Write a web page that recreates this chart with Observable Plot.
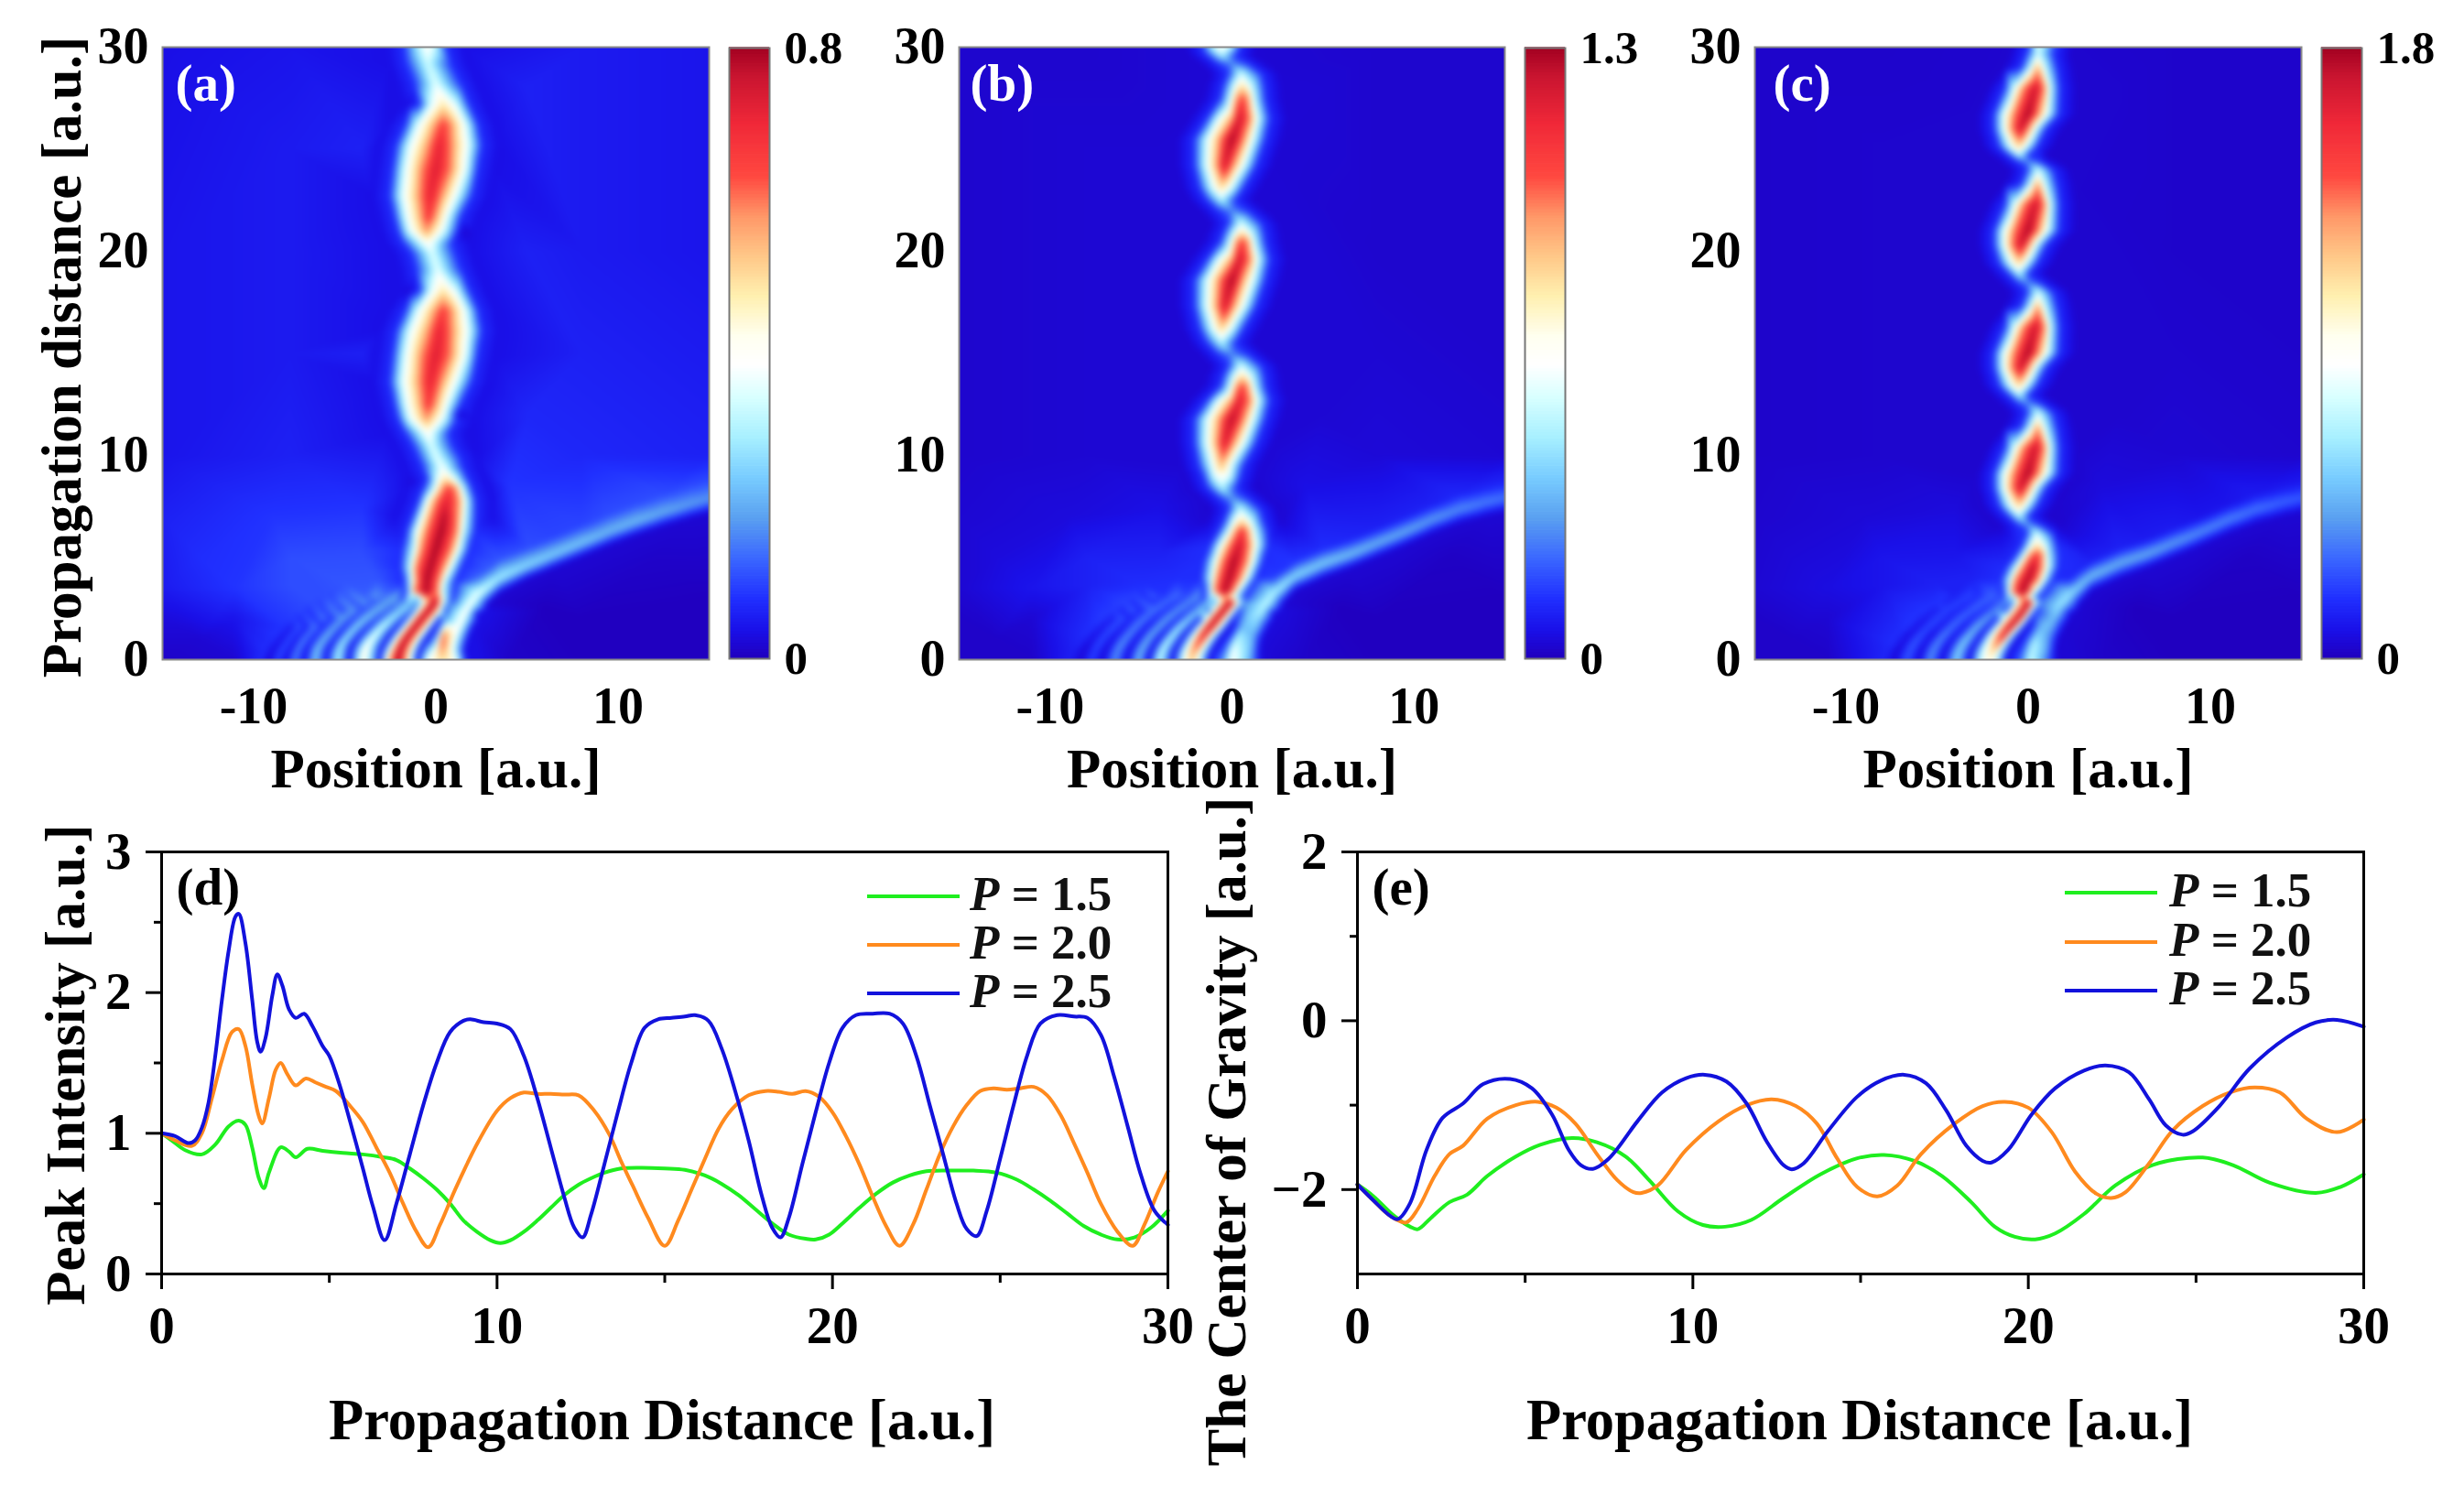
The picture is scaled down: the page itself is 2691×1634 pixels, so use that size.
<!DOCTYPE html>
<html><head><meta charset="utf-8">
<script src="https://cdn.jsdelivr.net/npm/d3@7"></script>
<script src="https://cdn.jsdelivr.net/npm/@observablehq/plot@0.6"></script>
<style>
html,body{margin:0;padding:0;background:#fff}
#page{position:relative;width:2691px;height:1634px;overflow:hidden;font-family:"Liberation Serif",serif;font-weight:bold;color:#000}
#page svg{position:absolute;background:transparent}
.lg{position:absolute;font-size:53px;line-height:50px;white-space:nowrap;color:#111}
.sw{position:absolute;height:4px}
</style></head><body><div id="page"></div>
<script>
// colour bar (fraction of the maximum -> colour)
const stops=[0,.043,.096,.16,.227,.293,.36,.425,.478,.524,.59,.655,.72,.787,.873,.952,1];
const colors=["#2000c0","#1a10e8","#2030ff","#3a66ff","#5aa0f0","#78ccff","#a8f0ff","#d8ffff","#ffffff","#fffff0","#fff0b0","#ffc888","#ff9868","#ff4840","#f02838","#c81430","#a00020"];
const maxA=0.8,maxB=1.3,maxC=1.8;
const N=null;
// Ridge rows read from each map:
// [z, peak, x of peak, x blue-left, x white-left, x red-left, x red-right, x white-right, x blue-right]
const ridgeA=[
[3.05,.72,-.4,-1.9,-1.5,N,N,.45,.95],[3.3,1,-.55,-1.7,-1.35,-1.2,.1,.35,1.0],[3.8,1,-.5,-1.75,-1.35,-1.05,.15,.45,1.05],
[4.5,1,-.3,-1.95,-1.4,-1.1,.4,.85,1.4],[5.4,1,0,-1.85,-1.2,-.8,.85,1.3,1.85],[6.3,1,.3,-1.6,-1.13,-.55,1.15,1.5,2.15],
[7,.98,.45,-1.3,-.85,-.3,1.2,1.6,2.2],[7.8,.9,.6,-.95,-.55,0,1.25,1.65,2.2],[8.4,.82,.7,-.7,-.1,.4,1.1,1.45,2.0],
[8.9,.6,.55,-.5,.05,N,N,1.05,1.75],[9.4,.48,.35,-.75,N,N,N,N,1.5],[9.9,.45,.05,-1,N,N,N,N,1.35],[10.5,.44,-.25,-1.3,N,N,N,N,.95],
[11.1,.5,-.45,-1.7,-.75,N,N,-.15,.75],[11.8,.72,-.5,-2.1,-1.5,N,N,.47,1.2],[12.5,.85,-.45,-2.3,-1.7,-.75,-.05,.7,1.4],
[13.6,.9,-.3,-2.55,-1.9,-.9,.3,1.2,2],[14.9,.92,0,-2.4,-1.75,-.8,.85,1.7,2.3],[16.1,.9,.2,-2.2,-1.5,-.4,.9,1.85,2.55],
[17.1,.82,.4,-1.7,-1.05,0,.85,1.7,2.35],[18.1,.6,.4,-.9,-.3,N,N,1.15,1.85],[19.1,.45,.1,-1.1,N,N,N,N,1.4],[19.9,.44,-.2,-1.35,N,N,N,N,1.1],
[20.4,.5,-.45,-1.8,-.8,N,N,-.1,.9],[21,.72,-.5,-2.1,-1.5,N,N,.47,1.2],[21.7,.85,-.45,-2.3,-1.7,-.75,-.05,.7,1.4],
[22.7,.9,-.3,-2.55,-1.9,-.9,.3,1.2,2],[24,.92,0,-2.4,-1.75,-.8,.85,1.7,2.3],[25.2,.9,.2,-2.2,-1.5,-.4,.9,1.85,2.55],
[26.2,.82,.4,-1.7,-1.05,0,.85,1.7,2.35],[27.2,.6,.4,-.9,-.3,N,N,1.15,1.85],[28.2,.45,0,-1.2,N,N,N,N,1.4],[29.2,.42,-.45,-1.65,N,N,N,N,.85],
[30,.5,-.45,-1.8,-.8,N,N,-.1,.6]];
const ridgeB=[
[3.05,.72,-.4,-1.5,-1.2,N,N,.15,.7],[3.35,1,-.35,-1.5,-1.15,-.95,.05,.35,.85],[4,1,-.15,-1.7,-1.15,-.8,.45,.85,1.35],
[4.8,1,.1,-1.55,-1,-.55,.8,1.2,1.7],[5.6,.95,.4,-1.2,-.7,-.15,.95,1.4,2],[6.3,.85,.55,-.75,-.2,.25,.85,1.25,1.95],
[6.8,.62,.55,-.45,.05,N,N,1.05,1.75],[7.4,.4,.45,-.2,N,N,N,N,1.55],[7.9,.22,0,-.7,N,N,N,N,.9],[8.4,.38,-.55,-1.35,N,N,N,N,.25],
[9,.5,-.6,-1.6,-1,N,N,-.1,.5],[9.5,.68,-.58,-1.85,-1.15,N,N,0,.65],[10.6,.92,-.4,-2.1,-1.45,-.8,.05,.7,1.35],
[11.8,.98,0,-2.1,-1.4,-.65,.65,1.2,1.85],[12.7,.92,.4,-1.4,-.8,.05,1,1.45,2.1],[13.4,.8,.55,-.65,-.1,.3,.85,1.2,1.85],
[13.9,.62,.55,-.5,.1,N,N,1.05,1.8],[14.4,.42,.5,-.23,N,N,N,N,1.65],[14.95,.2,0,-.8,N,N,N,N,.9],[15.5,.38,-.58,-1.4,N,N,N,N,.2],
[16.2,.64,-.58,-1.8,-1.1,N,N,0,.65],[17.3,.93,-.4,-2.1,-1.45,-.8,.05,.7,1.35],[18.6,1,0,-2.1,-1.4,-.7,.55,1.2,1.85],
[19.6,.95,.4,-1.4,-.8,.05,1,1.45,2.1],[20.5,.8,.55,-.65,-.1,.3,.85,1.2,1.85],[20.9,.62,.55,-.5,.1,N,N,1.05,1.8],
[21.4,.42,.5,-.23,N,N,N,N,1.65],[22,.2,0,-.8,N,N,N,N,.9],[22.5,.38,-.58,-1.4,N,N,N,N,.2],[23.1,.62,-.58,-1.8,-1.1,N,N,0,.65],
[24.2,.93,-.4,-2.1,-1.45,-.8,.05,.7,1.35],[25.5,1,0,-2.1,-1.4,-.65,.65,1.2,1.85],[26.5,.95,.4,-1.4,-.8,.05,1,1.45,2.1],
[27.5,.8,.55,-.65,-.1,.3,.85,1.2,1.85],[28.1,.62,.55,-.5,.1,N,N,1.05,1.8],[28.7,.42,.5,-.23,N,N,N,N,1.65],
[29.2,.2,0,-.8,N,N,N,N,.9],[29.6,.38,-.58,-1.4,N,N,N,N,.2],[30,.5,-.55,-1.7,-1,N,N,-.1,.5]];
const ridgeC=[
[3.05,.75,-.35,-1.3,-1,N,N,.1,.6],[3.3,1,-.3,-1.4,-1.05,-.85,.1,.35,.85],[3.9,1,0,-1.5,-1,-.7,.5,.85,1.35],[4.5,.98,.25,-1.2,-.7,-.3,.75,1.1,1.65],
[5.1,.85,.45,-.7,-.25,.1,.8,1.05,1.7],[5.6,.62,.5,-.35,.1,N,N,.95,1.6],[6.2,.42,.45,-.1,N,N,N,N,1.4],[6.6,.22,0,-.6,N,N,N,N,.7],[7,.38,-.5,-1.1,N,N,N,N,.05],
[7.5,.62,-.5,-1.6,-1,N,N,-.1,.5],[8.4,.95,-.4,-1.9,-1.4,-.9,0,.45,1],[9.1,1,0,-1.9,-1.4,-.8,.55,1.1,1.7],[10.4,.95,.4,-1.3,-.8,-.25,.9,1.2,1.75],
[11.4,.72,.5,-.4,.15,N,N,.9,1.6],[12.1,.42,.55,-.1,N,N,N,N,1.4],[12.55,.2,0,-.6,N,N,N,N,.7],[12.95,.38,-.5,-1.1,N,N,N,N,.05],
[13.4,.62,-.5,-1.6,-1,N,N,-.1,.5],[14.3,.95,-.4,-1.9,-1.4,-.9,0,.45,1],[15,1,0,-1.9,-1.4,-.8,.55,1.1,1.7],[16.3,.95,.4,-1.3,-.8,-.25,.9,1.2,1.75],
[17.3,.72,.5,-.4,.15,N,N,.9,1.6],[18,.42,.55,-.1,N,N,N,N,1.4],[18.45,.2,0,-.6,N,N,N,N,.7],[18.9,.38,-.5,-1.1,N,N,N,N,.05],
[19.4,.62,-.5,-1.6,-1,N,N,-.1,.5],[20.3,.95,-.4,-1.9,-1.4,-.9,0,.45,1],[21,1,0,-1.9,-1.4,-.8,.55,1.1,1.7],[22.3,.95,.4,-1.3,-.8,-.25,.9,1.2,1.75],
[23.3,.72,.5,-.4,.15,N,N,.9,1.6],[24,.42,.55,-.1,N,N,N,N,1.4],[24.4,.2,0,-.6,N,N,N,N,.7],[24.7,.38,-.5,-1.1,N,N,N,N,.05],
[25.1,.62,-.5,-1.6,-1,N,N,-.1,.5],[26,.95,-.4,-1.9,-1.4,-.9,0,.45,1],[26.7,1,0,-1.9,-1.4,-.8,.55,1.1,1.7],[28,.95,.4,-1.3,-.8,-.25,.9,1.2,1.75],
[29,.7,.5,-.4,.15,N,N,.9,1.6],[29.7,.42,.55,-.1,N,N,N,N,1.4],[30,.46,.55,0,N,N,N,N,1.6]];
// Fringe table: z levels, then for each bright/dark fringe its x and its fraction at those levels
const zLevels=[0,.4,.8,1.2,1.6,2,2.4,2.8,3.1];
const fringeXA=[
[-9.6,-9.4,-9.1,-8.75,-8.35,-7.9,-7.4,-6.8,-6.2],[-9.15,-8.95,-8.65,-8.3,-7.9,-7.4,-6.9,-6.3,-5.7],
[-8.7,-8.5,-8.2,-7.9,-7.5,-7.1,-6.6,-6,-5.4],[-8.2,-8,-7.75,-7.45,-7.05,-6.6,-6.1,-5.5,-4.9],
[-7.8,-7.65,-7.4,-7.05,-6.65,-6.2,-5.65,-5,-4.4],[-7.2,-7.1,-6.9,-6.55,-6.15,-5.7,-5.1,-4.5,-3.9],
[-6.65,-6.55,-6.3,-5.95,-5.55,-5.1,-4.55,-3.95,-3.35],[-6,-5.95,-5.7,-5.35,-4.95,-4.5,-3.95,-3.35,-2.75],
[-5.4,-5.3,-5.15,-4.8,-4.4,-3.9,-3.3,-2.7,-2.15],[-4.75,-4.7,-4.5,-4.15,-3.7,-3.2,-2.6,-2.05,-1.55],
[-4,-3.9,-3.7,-3.35,-2.95,-2.45,-1.85,-1.4,-1.05],[-3.05,-3,-2.8,-2.5,-2.1,-1.7,-1.25,-.95,N],
[-2.7,-2.55,-2.3,-2,-1.65,-1.3,-.95,-.65,N],[-2.1,-2,-1.8,-1.5,-1.15,-.8,-.4,-.05,N],[-1.45,-1.35,-1.15,-.85,-.5,-.15,.2,.35,N],
[-1,-.9,-.7,-.4,-.1,.2,.55,.7,N],[-.45,-.3,-.15,.05,.25,.45,.85,N,N],[.2,.3,.35,.4,.6,N,N,N,N],
[1.05,.95,1,1.1,1.25,1.45,1.7,1.95,N],[1.7,1.6,1.7,1.85,2.05,2.35,2.7,N,N]];
const fringeVA=[
[.09,.09,.09,.1,.1,.11,.12,.13,.13],[.02,.03,.04,.05,.06,.08,.09,.11,.12],
[.13,.13,.13,.13,.14,.14,.15,.16,.16],[.03,.04,.05,.06,.07,.09,.11,.13,.14],
[.2,.2,.2,.19,.19,.19,.19,.2,.2],[.04,.04,.06,.07,.08,.09,.11,.13,.15],
[.3,.3,.28,.27,.25,.24,.23,.22,.22],[.04,.04,.05,.06,.08,.1,.12,.14,.17],
[.38,.38,.36,.34,.32,.3,.27,.25,.25],[.03,.03,.04,.06,.08,.11,.14,.17,.2],
[.55,.55,.5,.46,.42,.37,.33,.3,.32],[.03,.03,.03,.03,.05,.08,.15,.22,N],
[.55,.5,.5,.5,.5,.5,.5,.5,N],[1,1,1,1,1,1,1,1,N],[.5,.5,.5,.5,.5,.5,.5,.5,N],
[.03,.02,.03,.03,.03,.05,.1,.2,N],[.5,.4,.25,.2,.2,.2,.25,N,N],[.6,.72,.8,.78,.55,N,N,N,N],
[.5,.45,.45,.48,.5,.5,.5,.48,N],[.05,.04,.04,.04,.04,.04,.04,N,N]];
const fringeXB=[
[-8.9,-8.7,-8.4,-8,-7.6,-7.1,-6.5,-5.9,-5.3],[-8.3,-8.1,-7.85,-7.5,-7.1,-6.6,-6.05,-5.45,-4.85],
[-7.75,-7.55,-7.3,-6.95,-6.5,-6.05,-5.5,-4.9,-4.3],[-7.1,-6.95,-6.7,-6.35,-5.95,-5.5,-4.95,-4.35,-3.75],
[-6.45,-6.3,-6.05,-5.7,-5.3,-4.85,-4.3,-3.7,-3.1],[-5.8,-5.65,-5.4,-5.05,-4.65,-4.2,-3.65,-3.05,-2.5],
[-5.15,-5,-4.75,-4.45,-4,-3.55,-3,-2.4,-1.9],[-4.6,-4.45,-4.2,-3.85,-3.45,-2.95,-2.4,-1.85,-1.4],
[-4,-3.85,-3.6,-3.25,-2.85,-2.35,-1.8,-1.3,-1],[-3.25,-3.15,-2.9,-2.6,-2.2,-1.75,-1.25,-.9,N],
[-2.75,-2.6,-2.35,-2.05,-1.7,-1.35,-1,-.7,N],[-2.25,-2.1,-1.85,-1.55,-1.2,-.85,-.45,-.05,N],[-1.8,-1.65,-1.4,-1.1,-.7,-.35,0,.3,N],
[-1.25,-1.1,-.85,-.55,-.2,.1,.4,.7,N],[-.55,-.45,-.3,-.05,.2,N,N,N,N],[0,.05,.15,.35,.6,.85,N,N,N],
[1,1,1.05,1.15,1.3,1.45,1.65,1.95,N],[1.6,1.55,1.6,1.75,2,2.3,2.65,N,N]];
const fringeVB=[
[.07,.07,.08,.09,.1,.11,.11,.12,.12],[.02,.02,.03,.04,.05,.06,.07,.08,.09],
[.12,.12,.13,.13,.14,.14,.15,.15,.15],[.02,.02,.03,.04,.05,.07,.08,.09,.1],
[.22,.22,.22,.21,.2,.19,.18,.17,.17],[.02,.02,.03,.04,.05,.07,.09,.1,.12],
[.28,.28,.27,.26,.25,.24,.22,.21,.22],[.02,.02,.03,.04,.06,.08,.11,.13,.16],
[.42,.42,.4,.38,.36,.32,.29,.28,.3],[.02,.02,.03,.03,.05,.07,.14,.22,N],
[.42,.44,.46,.48,.5,.5,.5,.5,N],[.66,.75,.85,.95,1,1,1,1,N],[.42,.44,.46,.48,.5,.5,.5,.5,N],
[.03,.03,.03,.03,.03,.05,.1,.2,N],[.2,.15,.12,.1,.1,N,N,N,N],[.5,.48,.42,.36,.28,.3,N,N,N],
[.25,.28,.28,.26,.3,.33,.38,.4,N],[.03,.03,.03,.03,.03,.03,.03,N,N]];
const fringeXC=[
[-7.9,-7.7,-7.4,-7.05,-6.6,-6.2,-5.6,-5,-4.5],[-7.3,-7.15,-6.9,-6.55,-6.1,-5.65,-5.1,-4.5,-4],
[-6.7,-6.5,-6.25,-5.9,-5.45,-5,-4.45,-3.85,-3.3],[-6,-5.85,-5.6,-5.25,-4.8,-4.35,-3.8,-3.2,-2.7],
[-5.4,-5.25,-5,-4.65,-4.2,-3.75,-3.15,-2.55,-2],[-4.7,-4.55,-4.3,-3.95,-3.5,-3.05,-2.45,-1.9,-1.45],
[-3.95,-3.8,-3.55,-3.2,-2.8,-2.3,-1.75,-1.25,-.95],[-3.2,-3.1,-2.85,-2.55,-2.15,-1.7,-1.2,-.85,N],
[-2.7,-2.55,-2.3,-2,-1.6,-1.25,-.9,-.6,N],[-2.15,-1.95,-1.65,-1.3,-.95,-.55,-.2,.1,N],[-1.7,-1.55,-1.3,-1,-.6,-.2,.1,.35,N],
[-1.2,-1.05,-.8,-.5,-.15,.15,.45,.75,N],[-.5,-.4,-.25,0,.25,N,N,N,N],[.15,.2,.3,.5,.75,N,N,N,N],
[.95,.95,1,1.1,1.25,1.4,1.6,1.9,N],[1.6,1.55,1.6,1.75,2,2.3,2.65,N,N]];
const fringeVC=[
[.08,.08,.09,.09,.1,.1,.1,.1,.1],[.02,.02,.03,.03,.04,.05,.06,.07,.07],
[.15,.15,.15,.14,.13,.13,.12,.12,.12],[.02,.02,.03,.03,.05,.06,.07,.08,.09],
[.22,.22,.21,.2,.18,.17,.16,.16,.16],[.02,.02,.03,.04,.05,.07,.09,.11,.13],
[.32,.32,.31,.29,.27,.24,.21,.2,.22],[.02,.02,.03,.03,.05,.07,.12,.18,N],
[.38,.4,.42,.46,.5,.5,.5,.5,N],[.55,.65,.8,.95,1,1,1,1,N],[.38,.4,.42,.46,.5,.5,.5,.5,N],
[.03,.03,.03,.03,.03,.05,.1,.18,N],[.14,.12,.1,.1,.1,N,N,N,N],[.42,.4,.38,.32,.28,N,N,N,N],
[.2,.25,.25,.24,.26,.28,.32,.35,N],[.02,.02,.02,.02,.02,.02,.02,N,N]];
// Beam leaving to the right: x stations, then z of its centre, its lower and upper flank, and fractions
const beamX=[2.3,2.9,3.5,5,6.5,8,9.5,11,12.5,14,15];
const beamZA=[3.2,3.6,4,4.6,5.15,5.7,6.25,6.75,7.2,7.6,7.85],beamVA=[.46,.4,.36,.32,.3,.29,.27,.27,.25,.23,.22],beamLowA=[2.2,2.75,3.25,3.95,4.5,5.05,5.6,6.1,6.55,6.95,7.2],beamHighA=[4,4.4,4.9,5.45,6,6.55,7.1,7.6,8.05,8.45,8.7],beamUpA=[.16,.15,.14,.13,.12,.12,.13,.13,.13,.13,.13];
const beamZB=[3.25,3.7,4.1,4.7,5.15,5.7,6.25,6.85,7.35,7.7,7.9],beamVB=[.38,.35,.32,.3,.28,.26,.25,.23,.21,.19,.18],beamLowB=[2.2,2.8,3.4,4,4.5,5.05,5.6,6.2,6.7,7.05,7.25],beamHighB=[4,4.4,4.8,5.4,5.85,6.4,6.95,7.55,8.05,8.4,8.6],beamUpB=[.11,.1,.1,.09,.08,.07,.07,.07,.08,.08,.08];
const beamZC=[3.2,3.65,4.1,4.7,5.15,5.7,6.25,6.85,7.35,7.7,7.9],beamVC=[.34,.3,.28,.26,.25,.23,.21,.2,.18,.16,.15],beamLowC=[2.2,2.8,3.4,4,4.5,5.05,5.6,6.2,6.7,7.05,7.25],beamHighC=[3.95,4.4,4.8,5.4,5.85,6.4,6.95,7.55,8.05,8.4,8.6],beamUpC=[.08,.08,.07,.07,.06,.06,.05,.05,.06,.06,.06];
// Background read as [x, z, fraction]
const backA=[[-11,0,.02],[-15,0,.01],[-13,1,.02],[-15,2,.03],[-11,2,.05],[-15,3.5,.06],[-11,3.5,.1],[-8,3.6,.13],[-5,3.7,.14],[-3.2,3.9,.14],
[-13,5,.09],[-8,5,.13],[-4,5.2,.13],[-15,7,.07],[-9,7,.1],[-4,7.4,.1],[-15,10,.05],[-8,10,.07],[-15,15,.05],[-15,20,.05],[-15,30,.04],[-8,15,.06],[-8,20,.06],[-8,25,.06],[-8,30,.05],[-4,15,.07],[-4,25,.07],
[-1.35,8.75,.02],[-1.5,18,.02],[-1.5,27.2,.03],[1.2,11.9,.02],[1.5,21,.02],[15,10,.07],[8,10,.08],[15,15,.06],[8,15,.07],[15,20,.05],[8,20,.06],[15,30,.05],[8,30,.06],[5,20,.07],[5,12,.08],[5,28,.07],[4,8.5,.1],
[15,0,0],[8,0,0],[4,0,.01],[15,3,0],[8,2,0],[2.4,0,.04],[6,2.5,0],[12,5,.01]];
const backB=[[-11,0,.01],[-15,0,.01],[-13,1,.01],[-15,2,.01],[-11,2,.02],[-15,3.5,.02],[-11,3.5,.05],[-8,3.6,.07],[-5,3.7,.09],[-3,4,.09],
[-13,5,.03],[-8,5,.07],[-4,5.2,.07],[-15,7,.02],[-9,7,.03],[-4,7.4,.04],[-15,10,.015],[-8,10,.02],[-15,15,.015],[-15,20,.015],[-15,30,.015],[-8,15,.02],[-8,20,.02],[-8,25,.02],[-8,30,.015],[-4,15,.02],[-4,25,.02],
[15,10,.02],[8,10,.025],[15,15,.015],[8,15,.02],[15,20,.015],[8,20,.015],[15,30,.015],[8,30,.015],[5,20,.02],[5,12,.02],[5,28,.02],[4,8.5,.04],
[15,0,0],[8,0,0],[4,0,.01],[15,3,0],[8,2,0],[2.4,0,.02],[6,2.5,0],[12,5,.005]];
const backC=[[-11,0,.01],[-15,0,.01],[-13,1,.01],[-15,2,.01],[-11,2,.02],[-15,3.5,.02],[-11,3.5,.035],[-8,3.6,.05],[-5,3.7,.07],[-3,4,.07],
[-13,5,.025],[-8,5,.05],[-4,5.2,.05],[-15,7,.015],[-9,7,.025],[-4,7.4,.03],[-15,10,.012],[-8,10,.015],[-15,15,.012],[-15,20,.012],[-15,30,.012],[-8,15,.015],[-8,20,.015],[-8,25,.015],[-8,30,.012],[-4,15,.015],[-4,25,.015],
[15,10,.015],[8,10,.02],[15,15,.012],[8,15,.015],[15,20,.012],[8,20,.012],[15,30,.012],[8,30,.012],[5,20,.015],[5,12,.015],[5,28,.015],[4,8.5,.03],
[15,0,0],[8,0,0],[4,0,.01],[15,3,0],[8,2,0],[2.4,0,.02],[6,2.5,0],[12,5,.005]];
const darkRingA=.04,darkRingB=.02,darkRingC=.015;
// Colour level at each read edge of a ridge row: blue, white, red, red, white, blue
const edgeLevels=[.09,.42,.72,.72,.42,.09];
// Peak intensity curves [distance, value]
const peak15=[[0,1],[.3,.95],[.7,.88],[1.2,.85],[1.6,.92],[2,1.05],[2.3,1.09],[2.5,1.06],[2.7,.9],[2.9,.68],[3.05,.61],[3.2,.72],[3.55,.9],[3.8,.87],[4,.83],[4.35,.89],[4.8,.875],[5.4,.86],[6,.85],[6.6,.83],[7,.81],[7.4,.75],[7.8,.68],[8.2,.6],[8.6,.5],[9,.38],[9.4,.3],[9.8,.24],[10.1,.22],[10.4,.24],[10.8,.3],[11.2,.38],[11.6,.47],[12,.56],[12.4,.63],[12.8,.68],[13.2,.72],[13.7,.75],[14.3,.755],[15,.75],[15.6,.74],[16.2,.7],[16.7,.64],[17.2,.56],[17.7,.46],[18.2,.36],[18.7,.28],[19.2,.25],[19.5,.245],[19.9,.28],[20.3,.36],[20.8,.47],[21.3,.57],[21.8,.65],[22.3,.7],[22.8,.73],[23.5,.735],[24.2,.735],[24.9,.72],[25.5,.67],[26,.6],[26.5,.52],[27,.43],[27.5,.34],[28,.28],[28.5,.245],[29,.26],[29.5,.33],[30,.45]];
const peak20=[[0,1],[.4,.95],[.9,.91],[1.2,1],[1.5,1.25],[1.8,1.52],[2.1,1.72],[2.3,1.74],[2.5,1.62],[2.7,1.35],[2.9,1.12],[3,1.07],[3.2,1.25],[3.4,1.45],[3.55,1.5],[3.75,1.42],[4,1.34],[4.3,1.39],[4.6,1.36],[4.9,1.33],[5.2,1.3],[5.6,1.2],[6,1.08],[6.4,.9],[6.8,.72],[7.2,.5],[7.6,.3],[7.95,.19],[8.3,.35],[8.75,.6],[9.44,.94],[10,1.16],[10.4,1.25],[10.8,1.29],[11.2,1.28],[11.6,1.28],[12,1.275],[12.43,1.27],[12.9,1.16],[13.35,.99],[13.7,.8],[14.04,.63],[14.5,.4],[15,.2],[15.4,.38],[15.8,.6],[16.2,.82],[16.6,1.03],[17,1.17],[17.5,1.27],[18,1.3],[18.4,1.295],[18.8,1.28],[19.2,1.3],[19.6,1.26],[20,1.15],[20.4,.98],[20.8,.78],[21.2,.55],[21.6,.34],[22,.2],[22.4,.35],[22.8,.6],[23.2,.85],[23.6,1.05],[24,1.2],[24.4,1.3],[24.8,1.32],[25.2,1.31],[25.6,1.32],[26,1.33],[26.4,1.27],[26.8,1.13],[27.2,.93],[27.6,.72],[28,.5],[28.5,.3],[28.95,.2],[29.3,.35],[29.7,.58],[30,.73]];
const peak25=[[0,1],[.4,.98],[.8,.93],[1,.95],[1.2,1.04],[1.4,1.22],[1.6,1.55],[1.8,1.95],[2,2.3],[2.2,2.54],[2.3,2.56],[2.5,2.35],[2.7,1.95],[2.85,1.65],[2.95,1.58],[3.1,1.68],[3.3,1.98],[3.45,2.13],[3.6,2.05],[3.8,1.88],[4,1.82],[4.25,1.85],[4.5,1.76],[4.8,1.62],[5,1.55],[5.3,1.35],[5.6,1.1],[6,.75],[6.3,.48],[6.65,.24],[7,.5],[7.4,.85],[7.8,1.2],[8.2,1.5],[8.6,1.72],[9,1.8],[9.2,1.81],[9.6,1.79],[10,1.78],[10.4,1.74],[10.8,1.55],[11.2,1.25],[11.6,.9],[12,.55],[12.3,.33],[12.55,.26],[12.8,.42],[13.2,.78],[13.6,1.15],[14,1.5],[14.4,1.75],[14.8,1.81],[15.2,1.82],[15.6,1.83],[15.9,1.84],[16.3,1.8],[16.7,1.6],[17.1,1.3],[17.5,.95],[17.9,.55],[18.2,.33],[18.45,.26],[18.7,.4],[19.1,.78],[19.5,1.15],[19.9,1.5],[20.3,1.75],[20.7,1.84],[21.2,1.85],[21.7,1.85],[22.1,1.78],[22.5,1.55],[22.9,1.2],[23.3,.85],[23.7,.5],[24,.32],[24.3,.27],[24.6,.45],[25,.82],[25.4,1.2],[25.8,1.55],[26.2,1.78],[26.7,1.84],[27.2,1.83],[27.6,1.82],[28,1.7],[28.4,1.4],[28.8,1.05],[29.2,.7],[29.6,.45],[30,.35]];
// Centre of gravity curves [distance, value]
const cog15=[[0,-1.94],[.48,-2.08],[1.09,-2.31],[1.57,-2.44],[1.8,-2.47],[2.18,-2.34],[2.74,-2.15],[3.27,-2.06],[3.87,-1.84],[4.72,-1.61],[5.45,-1.47],[6.4,-1.39],[7.14,-1.44],[8,-1.61],[8.7,-1.89],[9.56,-2.26],[10.3,-2.42],[10.96,-2.44],[11.74,-2.36],[12.7,-2.1],[13.8,-1.82],[14.9,-1.63],[15.7,-1.59],[16.6,-1.66],[17.43,-1.84],[18.3,-2.15],[19,-2.44],[19.6,-2.56],[20.2,-2.59],[20.8,-2.52],[21.66,-2.29],[22.6,-1.95],[23.7,-1.71],[25.2,-1.62],[26.1,-1.71],[27.2,-1.92],[28.57,-2.04],[29.3,-1.97],[30,-1.82]];
const cog20=[[0,-1.94],[.48,-2.13],[.97,-2.31],[1.45,-2.39],[1.8,-2.23],[2.3,-1.84],[2.74,-1.58],[3.15,-1.48],[3.87,-1.16],[4.72,-1],[5.37,-.96],[5.93,-1.03],[6.5,-1.22],[7.14,-1.58],[7.75,-1.89],[8.23,-2.03],[8.47,-2.04],[8.96,-1.95],[9.8,-1.53],[10.77,-1.19],[11.6,-1],[12.35,-.93],[13.07,-1.01],[13.7,-1.22],[14.3,-1.63],[14.9,-1.97],[15.5,-2.08],[16.1,-1.95],[16.8,-1.58],[17.8,-1.22],[18.64,-1.01],[19.3,-.96],[20,-1.03],[20.7,-1.32],[21.4,-1.79],[22.03,-2.05],[22.47,-2.1],[22.9,-2.03],[23.6,-1.69],[24.3,-1.3],[25.2,-1.01],[26,-.85],[26.75,-.79],[27.5,-.85],[28.3,-1.16],[29.2,-1.32],[30,-1.17]];
const cog25=[[0,-1.94],[.48,-2.13],[.97,-2.31],[1.2,-2.35],[1.57,-2.16],[2.06,-1.53],[2.54,-1.15],[3.15,-.98],[3.75,-.75],[4.55,-.69],[5.2,-.8],[5.8,-1.11],[6.3,-1.53],[6.66,-1.71],[7.02,-1.755],[7.5,-1.63],[8.35,-1.19],[9.08,-.85],[9.8,-.68],[10.36,-.64],[11,-.72],[11.6,-.98],[12.2,-1.43],[12.7,-1.71],[12.95,-1.76],[13.3,-1.69],[14.04,-1.3],[14.9,-.9],[15.6,-.71],[16.3,-.64],[16.95,-.74],[17.55,-1.06],[18.15,-1.48],[18.64,-1.66],[18.9,-1.68],[19.4,-1.53],[20.1,-1.11],[20.8,-.8],[21.66,-.59],[22.3,-.53],[23,-.61],[23.6,-.93],[24.1,-1.24],[24.6,-1.35],[24.9,-1.31],[25.7,-1.01],[26.6,-.565],[27.7,-.2],[28.57,-.02],[29.2,.01],[30,-.07]];

const FONT='"Liberation Serif",serif';
const baseStyle={fontFamily:FONT,fontWeight:"bold",background:"transparent",overflow:"visible",color:"#000"};
const page=document.getElementById("page");
function place(svg,left,top){svg.style.left=left+"px";svg.style.top=top+"px";page.appendChild(svg);}
function samples(p){
  const out=p.back.map(([x,z,v])=>({x,z,v}));
  for(const r of p.rows){
    out.push({x:r[2],z:r[0],v:r[1]});
    for(let i=0;i<6;i++) if(r[3+i]!==N) out.push({x:r[3+i],z:r[0],v:edgeLevels[i]});
    if(r[0]>=6.5) out.push({x:r[3]-.9,z:r[0],v:p.ring},{x:r[8]+.9,z:r[0],v:p.ring});
  }
  p.fx.forEach((xs,i)=>xs.forEach((x,j)=>{ if(x!==N) out.push({x,z:zLevels[j],v:p.fv[i][j]}); }));
  beamX.forEach((x,i)=>{
    out.push({x,z:p.bz[i],v:p.bv[i]},{x,z:p.blow[i],v:.02},{x,z:p.bhigh[i],v:p.bup[i]});
  });
  return out;
}
function heat(p){
  const {left,right,top,bottom,barL,barR,barT,barB,max,tag,tagDx,yTitle}=p;
  const ml=190,mr=10,mt=30,mb=170;
  const colorOpt={type:"linear",domain:stops.map(s=>s*max),range:colors,clamp:true};
  const marks=[
    Plot.raster(samples(p),{x:"x",y:"z",fill:d=>d.v*max,x1:-15,x2:15,y1:0,y2:30,interpolate:"barycentric",pixelSize:1,blur:3}),
    Plot.frame({stroke:"#8a8a8a",strokeWidth:2}),
    Plot.axisX([-10,0,10],{tickSize:0,tickPadding:30,fontSize:56,label:null,tickFormat:d=>String(d)}),
    Plot.axisY([0,10,20,30],{tickSize:0,tickPadding:15,fontSize:56,label:null}),
    Plot.text(["Position [a.u.]"],{text:d=>d,frameAnchor:"bottom",dy:120,fontSize:61,lineAnchor:"middle",fill:"#000"}),
    Plot.text([tag],{text:d=>d,frameAnchor:"top-left",dx:tagDx,dy:40,fontSize:57,lineAnchor:"middle",textAnchor:"start",fill:"#fff"})
  ];
  if(yTitle) marks.push(Plot.text([yTitle],{text:d=>d,frameAnchor:"left",dx:-109,dy:4,fontSize:61,rotate:-90,lineAnchor:"middle",textAnchor:"middle",fill:"#000"}));
  place(Plot.plot({width:right-left+ml+mr,height:bottom-top+mt+mb,marginLeft:ml,marginRight:mr,marginTop:mt,marginBottom:mb,
    x:{domain:[-15,15]},y:{domain:[0,30]},color:colorOpt,style:baseStyle,marks}),left-ml,top-mt);
  const lv=d3.range(0,200).map(i=>i/200*max);
  const bm=40;
  place(Plot.plot({width:barR-barL+2*bm+80,height:barB-barT+2*bm,marginLeft:bm,marginRight:bm+80,marginTop:bm,marginBottom:bm,
    x:{domain:[0,1],axis:null},y:{domain:[0,max]},color:colorOpt,style:baseStyle,marks:[
      Plot.rect(lv,{x1:0,x2:1,y1:d=>d,y2:d=>d+max/200+max/1000,fill:d=>d}),
      Plot.frame({stroke:"#777",strokeWidth:2}),
      Plot.axisY([0,max],{anchor:"right",tickSize:0,tickPadding:16,fontSize:51,label:null,tickFormat:d=>String(d)})
    ]}),barL-bm,barT-bm);
}
function curves({left,right,top,bottom,yDomain,yTicks,yMinor,series,tag,yTitle,titleDx,titleDy,xTitleDx,fmt}){
  const ml=190,mr=40,mt=30,mb=200;
  const marks=[
    ...series.map(s=>Plot.line(s.data,{x:d=>d[0],y:d=>d[1],stroke:s.color,strokeWidth:4,curve:"catmull-rom"})),
    Plot.frame({stroke:"#000",strokeWidth:3}),
    Plot.axisX([0,10,20,30],{tickSize:17,tickPadding:18,fontSize:57,strokeWidth:3,stroke:"#000",label:null}),
    Plot.axisX([5,15,25],{tickSize:10,strokeWidth:3,stroke:"#000",label:null,tickFormat:()=>""}),
    Plot.axisY(yTicks,{tickSize:17,tickPadding:16,fontSize:57,strokeWidth:3,stroke:"#000",label:null,tickFormat:fmt}),
    Plot.axisY(yMinor,{tickSize:8,strokeWidth:3,stroke:"#000",label:null,tickFormat:()=>""}),
    Plot.text(["Propagation Distance [a.u.]"],{text:d=>d,frameAnchor:"bottom",dy:160,dx:xTitleDx,fontSize:62.5,lineAnchor:"middle",fill:"#000"}),
    Plot.text([yTitle],{text:d=>d,frameAnchor:"left",dx:titleDx,dy:titleDy,fontSize:61,rotate:-90,lineAnchor:"middle",textAnchor:"middle",fill:"#000"}),
    Plot.text([tag],{text:d=>d,frameAnchor:"top-left",dx:16,dy:39,fontSize:57,lineAnchor:"middle",textAnchor:"start",fill:"#000"})
  ];
  place(Plot.plot({width:right-left+ml+mr,height:bottom-top+mt+mb,marginLeft:ml,marginRight:mr,marginTop:mt,marginBottom:mb,
    x:{domain:[0,30]},y:{domain:yDomain},style:baseStyle,marks}),left-ml,top-mt);
}
function legend(x1,x2,tx,ys,labels,cols){
  labels.forEach((t,i)=>{
    const s=document.createElement("div");s.className="sw";
    s.style.cssText=`left:${x1}px;width:${x2-x1}px;top:${ys[i]-2}px;background:${cols[i]}`;
    page.appendChild(s);
    const d=document.createElement("div");d.className="lg";
    d.style.left=tx+"px";d.style.top=(ys[i]-28)+"px";
    d.innerHTML="<i>P</i> = "+t;
    page.appendChild(d);
  });
}
const seriesColors=["#1fee1f","#ff8a1e","#1212dc"];
const seriesLabels=["1.5","2.0","2.5"];

heat({left:177,right:774,top:51,bottom:720,barL:796,barR:840,barT:52,barB:719,max:maxA,rows:ridgeA,back:backA,ring:darkRingA,fx:fringeXA,fv:fringeVA,bz:beamZA,bv:beamVA,blow:beamLowA,bhigh:beamHighA,bup:beamUpA,tag:"(a)",tagDx:14,yTitle:"Propagation distance [a.u.]"});
heat({left:1047,right:1643,top:51,bottom:720,barL:1665,barR:1709,barT:52,barB:719,max:maxB,rows:ridgeB,back:backB,ring:darkRingB,fx:fringeXB,fv:fringeVB,bz:beamZB,bv:beamVB,blow:beamLowB,bhigh:beamHighB,bup:beamUpB,tag:"(b)",tagDx:12});
heat({left:1916,right:2513,top:51,bottom:720,barL:2535,barR:2579,barT:52,barB:719,max:maxC,rows:ridgeC,back:backC,ring:darkRingC,fx:fringeXC,fv:fringeVC,bz:beamZC,bv:beamVC,blow:beamLowC,bhigh:beamHighC,bup:beamUpC,tag:"(c)",tagDx:20});
curves({left:176,right:1275,top:930,bottom:1391,yDomain:[0,3],yTicks:[0,1,2,3],yMinor:[.5,1.5,2.5],
  series:[{data:peak15,color:seriesColors[0]},{data:peak20,color:seriesColors[1]},{data:peak25,color:seriesColors[2]}],
  tag:"(d)",yTitle:"Peak Intensity [a.u.]",titleDx:-104,titleDy:2,xTitleDx:-3,fmt:d=>String(d)});
curves({left:1482,right:2581,top:930,bottom:1391,yDomain:[-3,2],yTicks:[-2,0,2],yMinor:[-1,1],
  series:[{data:cog15,color:seriesColors[0]},{data:cog20,color:seriesColors[1]},{data:cog25,color:seriesColors[2]}],
  tag:"(e)",yTitle:"The Center of Gravity [a.u.]",titleDx:-142,titleDy:75,xTitleDx:-1,fmt:d=>d<0?"\u2212"+(-d):String(d)});
legend(947,1048,1059,[979,1032,1085],seriesLabels,seriesColors);
legend(2255,2356,2369,[975,1029,1082],seriesLabels,seriesColors);
</script></body></html>
